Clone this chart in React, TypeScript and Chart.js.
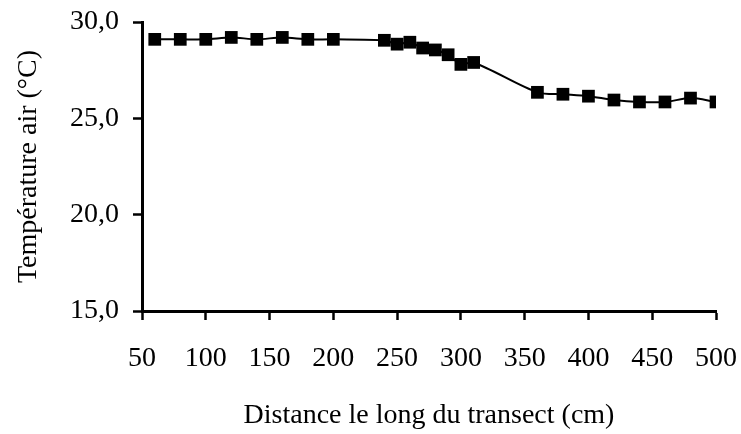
import React, { useEffect, useRef } from "react";
import { Chart, registerables } from "chart.js";

Chart.register(...registerables);

const distances = [60, 80, 100, 120, 140, 160, 180, 200, 240, 250, 260, 270, 280, 290, 300, 310, 360, 380, 400, 420, 440, 460, 480, 500];
const temperatures = [29.1, 29.1, 29.1, 29.2, 29.1, 29.2, 29.1, 29.1, 29.05, 28.85, 28.95, 28.65, 28.55, 28.3, 27.8, 27.9, 26.35, 26.25, 26.15, 25.95, 25.85, 25.85, 26.05, 25.85];
const xTitle = "Distance le long du transect (cm)";
const yTitle = "Température air (°C)";

const FONT = "'Liberation Serif', 'Times New Roman', serif";

export default function App() {
  const ref = useRef<HTMLCanvasElement | null>(null);
  useEffect(() => {
    if (!ref.current) return;
    const chart = new Chart(ref.current, {
      type: "line",
      data: {
        datasets: [
          {
            data: distances.map((d, i) => ({ x: d, y: temperatures[i] })),
            borderColor: "#000",
            backgroundColor: "#000",
            borderWidth: 2,
            pointStyle: "rect",
            pointRadius: 9,
            pointHoverRadius: 9,
            pointBorderWidth: 0,
            tension: 0.3,
            fill: false,
          },
        ],
      },
      options: {
        animation: false,
        responsive: false,
        devicePixelRatio: 1,
        layout: { padding: { top: 22, right: 25, bottom: 0, left: 0 } },
        plugins: { legend: { display: false }, tooltip: { enabled: false } },
        scales: {
          x: {
            type: "linear",
            min: 50,
            max: 500,
            afterFit: (s: any) => {
              s.height = 123;
              s.paddingLeft = 0;
              s.paddingRight = 0;
            },
            ticks: {
              stepSize: 50,
              color: "#000",
              font: { family: FONT, size: 28 },
              padding: 22,
              maxRotation: 0,
            },
            grid: {
              drawOnChartArea: false,
              drawTicks: true,
              tickLength: 9,
              tickColor: "#000",
              tickWidth: 2.5,
            },
            border: { display: true, color: "#000", width: 3 },
            title: {
              display: true,
              text: xTitle,
              color: "#000",
              font: { family: FONT, size: 28 },
              padding: { top: 0, bottom: 2 },
            },
          },
          y: {
            min: 15,
            max: 30,
            afterFit: (s: any) => {
              s.width = 142;
              s.paddingTop = 0;
              s.paddingBottom = 0;
            },
            ticks: {
              stepSize: 5,
              color: "#000",
              font: { family: FONT, size: 28 },
              padding: 14,
              callback: (v: any) => Number(v).toFixed(1).replace(".", ","),
            },
            grid: {
              drawOnChartArea: false,
              drawTicks: true,
              tickLength: 9,
              tickColor: "#000",
              tickWidth: 2.5,
            },
            border: { display: true, color: "#000", width: 3 },
            title: {
              display: true,
              text: yTitle,
              color: "#000",
              font: { family: FONT, size: 28 },
              padding: { top: 12, bottom: 0 },
            },
          },
        },
      },
    });
    return () => chart.destroy();
  }, []);
  return (
    <canvas
      ref={ref}
      width={741}
      height={434}
      style={{ position: "absolute", left: 0, top: 0, display: "block", width: 741, height: 434 }}
    />
  );
}
